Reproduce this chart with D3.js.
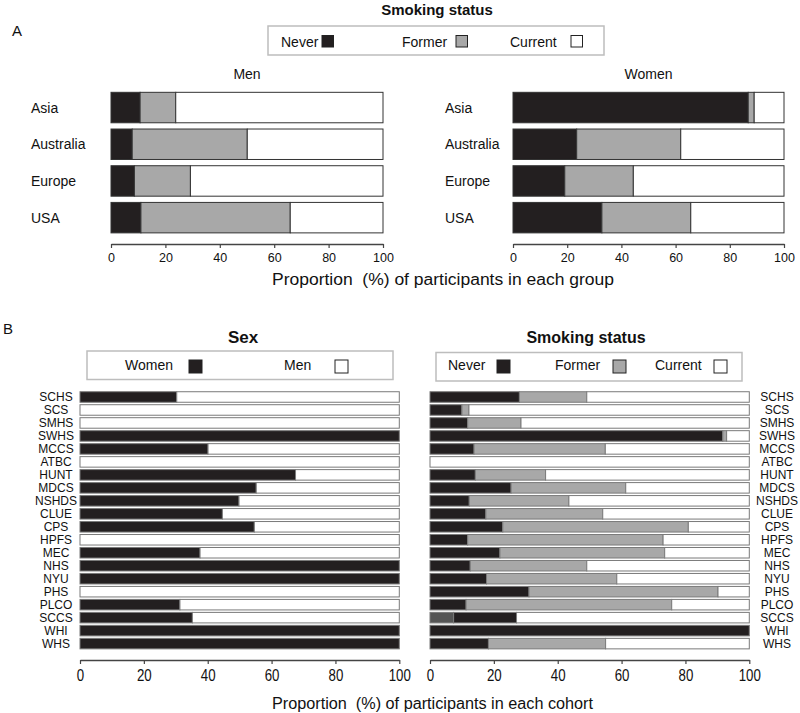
<!DOCTYPE html>
<html><head><meta charset="utf-8">
<script src="https://cdn.jsdelivr.net/npm/d3@7"></script>
<style>
body{margin:0;background:#fff;}
svg text{font-family:Arial,"Liberation Sans",Helvetica,sans-serif;fill:#111;}
</style></head>
<body><svg id="c" width="800" height="713"></svg>
<script>
// ---------- Panel A data ----------
const regions = ["Asia","Australia","Europe","USA"];
const menNever    = [10.7, 7.8, 8.6, 11.0];
const menFormer   = [13.1, 42.3, 20.6, 54.9];
const menCurrent  = [76.2, 49.9, 70.8, 34.1];
const womenNever   = [86.8, 23.5, 19.1, 32.8];
const womenFormer  = [2.2, 38.4, 25.3, 32.8];
const womenCurrent = [11.0, 38.1, 55.6, 34.4];

// ---------- Panel B data ----------
const cohorts = ["SCHS","SCS","SMHS","SWHS","MCCS","ATBC","HUNT","MDCS","NSHDS","CLUE","CPS","HPFS","MEC","NHS","NYU","PHS","PLCO","SCCS","WHI","WHS"];
const sexWomen = [30.3,0,0,100,40.1,0,67.5,55.2,49.8,44.6,54.6,0,37.6,100,100,0,31.3,35.2,100,100];
const sexMen   = [69.7,100,100,0,59.9,100,32.5,44.8,50.2,55.4,45.4,100,62.4,0,0,100,68.7,64.8,0,0];
const smkOther   = [0,0,0,0,0,0,0,0,0,0,0,0,0,0,0,0,0,7.4,0,0];
const smkNever   = [28.0,10.0,11.8,91.7,13.8,0,14.2,25.4,12.3,17.5,22.8,11.8,21.9,12.6,17.7,31.0,11.3,19.7,100,18.3];
const smkFormer  = [21.1,2.2,16.7,1.2,41.1,0,22.0,35.9,31.2,36.6,58.1,61.2,51.6,36.5,40.8,59.2,64.4,0,0,36.7];
const smkCurrent = [50.9,87.8,71.5,7.1,45.1,100,63.8,38.7,56.5,45.9,19.1,27.0,26.5,50.9,41.5,9.8,24.3,72.9,0,45.0];

const ticks = [0,20,40,60,80,100];
const BLACK = "#231f20", GREY = "#a8a8a8", DGREY = "#555555", WHITE = "#ffffff";

const svg = d3.select("#c");

function tableOf(cats, keys, arrays){
  return cats.map((c,i)=>{const o={cat:c}; keys.forEach((k,j)=>o[k]=arrays[j][i]); return o;});
}

function drawStack(g, table, keys, colors, x, y, stroke, sw){
  const series = d3.stack().keys(keys)(table);
  series.forEach((s,si)=>{
    g.append("g").selectAll("rect").data(s.filter(d=>d[1]-d[0]>0)).join("rect")
      .attr("x", d=>x(d[0])).attr("width", d=>x(d[1])-x(d[0]))
      .attr("y", d=>y(d.data.cat)).attr("height", y.bandwidth())
      .attr("fill", colors[si]).attr("stroke", stroke).attr("stroke-width", sw);
  });
}

function drawAxis(g, x, yPos, fontSize, condense, baselineOffset){
  const ax = g.append("g").attr("transform",`translate(0,${yPos})`)
    .call(d3.axisBottom(x).tickValues(ticks).tickSize(4).tickSizeOuter(0).tickFormat(d3.format("d")));
  ax.select(".domain").attr("stroke","#444").attr("stroke-width",1.4);
  ax.selectAll(".tick line").attr("stroke","#444").attr("stroke-width",1.2);
  ax.selectAll(".tick text").attr("font-size",fontSize).attr("fill","#222")
    .attr("y", baselineOffset).attr("dy",0)
    .attr("font-family","Arial, 'Liberation Sans', sans-serif");
  if(condense){
    ax.selectAll(".tick text").each(function(){
      const w=this.getComputedTextLength();
      d3.select(this).attr("textLength", w*condense).attr("lengthAdjust","spacingAndGlyphs");
    });
  }
}

function legendBox(x0,y0,x1,y1){
  svg.append("rect").attr("x",x0).attr("y",y0).attr("width",x1-x0).attr("height",y1-y0)
    .attr("fill","#fff").attr("stroke","#bdbdbd").attr("stroke-width",1.5);
}
function legendItem(label, tx, sx, ty, sy, size, fill, fs){
  svg.append("text").attr("x",tx).attr("y",ty).attr("font-size",fs).text(label);
  svg.append("rect").attr("x",sx).attr("y",sy).attr("width",size).attr("height",size)
    .attr("fill",fill).attr("stroke","#222").attr("stroke-width",1);
}

// ================= Panel A =================
svg.append("text").attr("x",12).attr("y",36).attr("font-size",15).text("A");
svg.append("text").attr("x",437).attr("y",15).attr("text-anchor","middle")
  .attr("font-size",15).attr("font-weight","bold").text("Smoking status");
legendBox(268,26,604,55);
legendItem("Never",281,322,47,35.5,11.5,BLACK,14);
legendItem("Former",402,456,47,35.5,11.5,GREY,14);
legendItem("Current",510,571,47,35.5,11.5,WHITE,14);

const yA = d3.scaleBand().domain(regions).range([89.2,236]).paddingInner(0.17).paddingOuter(0.085);
const xMen = d3.scaleLinear().domain([0,100]).range([111,383]);
const xWomen = d3.scaleLinear().domain([0,100]).range([513,784]);
const keysA = ["never","former","current"];
const colA = [BLACK,GREY,WHITE];

const gMen = svg.append("g");
drawStack(gMen, tableOf(regions,keysA,[menNever,menFormer,menCurrent]), keysA, colA, xMen, yA, "#333", 1);
const gWom = svg.append("g");
drawStack(gWom, tableOf(regions,keysA,[womenNever,womenFormer,womenCurrent]), keysA, colA, xWomen, yA, "#333", 1);

svg.append("text").attr("x",(xMen(0)+xMen(100))/2).attr("y",79).attr("text-anchor","middle").attr("font-size",14).text("Men");
svg.append("text").attr("x",(xWomen(0)+xWomen(100))/2).attr("y",79).attr("text-anchor","middle").attr("font-size",14).text("Women");

svg.append("g").selectAll("text").data(regions).join("text")
  .attr("x",31).attr("y",d=>yA(d)+yA.bandwidth()/2+5).attr("font-size",14).text(d=>d);
svg.append("g").selectAll("text").data(regions).join("text")
  .attr("x",445).attr("y",d=>yA(d)+yA.bandwidth()/2+5).attr("font-size",14).text(d=>d);

drawAxis(svg.append("g"), xMen, 244, 12.5, null, 18);
drawAxis(svg.append("g"), xWomen, 244, 12.5, null, 18);

svg.append("text").attr("x",272).attr("y",285).attr("font-size",16).style("white-space","pre")
  .attr("textLength",342).attr("lengthAdjust","spacingAndGlyphs")
  .text("Proportion  (%) of participants in each group");

// ================= Panel B =================
svg.append("text").attr("x",3).attr("y",334).attr("font-size",15).text("B");
const xSex = d3.scaleLinear().domain([0,100]).range([80,399.3]);
const xSmk = d3.scaleLinear().domain([0,100]).range([430,749.3]);
const yB = d3.scaleBand().domain(cohorts).range([390.5,650.1]).paddingInner(0.19).paddingOuter(0.095);

svg.append("text").attr("x",243).attr("y",343).attr("text-anchor","middle")
  .attr("font-size",17).attr("font-weight","bold").text("Sex");
svg.append("text").attr("x",586).attr("y",343).attr("text-anchor","middle")
  .attr("font-size",16).attr("font-weight","bold").text("Smoking status");

legendBox(87,351,393,379.5);
legendItem("Women",125,189,370,360,13,BLACK,14);
legendItem("Men",284,335,370,360,13,WHITE,14);
legendBox(436,352.5,742,381);
legendItem("Never",448,497,370,360,13,BLACK,14);
legendItem("Former",555,613,370,360,13,GREY,14);
legendItem("Current",655,714,370,360,13,WHITE,14);

const keysSex = ["women","men"];
drawStack(svg.append("g"), tableOf(cohorts,keysSex,[sexWomen,sexMen]), keysSex, [BLACK,WHITE], xSex, yB, "#7a7a7a", 1);
const keysSmk = ["other","never","former","current"];
drawStack(svg.append("g"), tableOf(cohorts,keysSmk,[smkOther,smkNever,smkFormer,smkCurrent]), keysSmk, [DGREY,BLACK,GREY,WHITE], xSmk, yB, "#7a7a7a", 1);

svg.append("g").selectAll("text").data(cohorts).join("text")
  .attr("x",56).attr("y",d=>yB(d)+yB.bandwidth()/2+4.3).attr("text-anchor","middle").attr("font-size",12).text(d=>d);
svg.append("g").selectAll("text").data(cohorts).join("text")
  .attr("x",777).attr("y",d=>yB(d)+yB.bandwidth()/2+4.3).attr("text-anchor","middle").attr("font-size",12).text(d=>d);

drawAxis(svg.append("g"), xSex, 660, 17, 0.78, 21);
drawAxis(svg.append("g"), xSmk, 660, 17, 0.78, 21);

svg.append("text").attr("x",272).attr("y",709).attr("font-size",16).style("white-space","pre")
  .attr("textLength",321).attr("lengthAdjust","spacingAndGlyphs")
  .text("Proportion  (%) of participants in each cohort");
</script></body></html>
